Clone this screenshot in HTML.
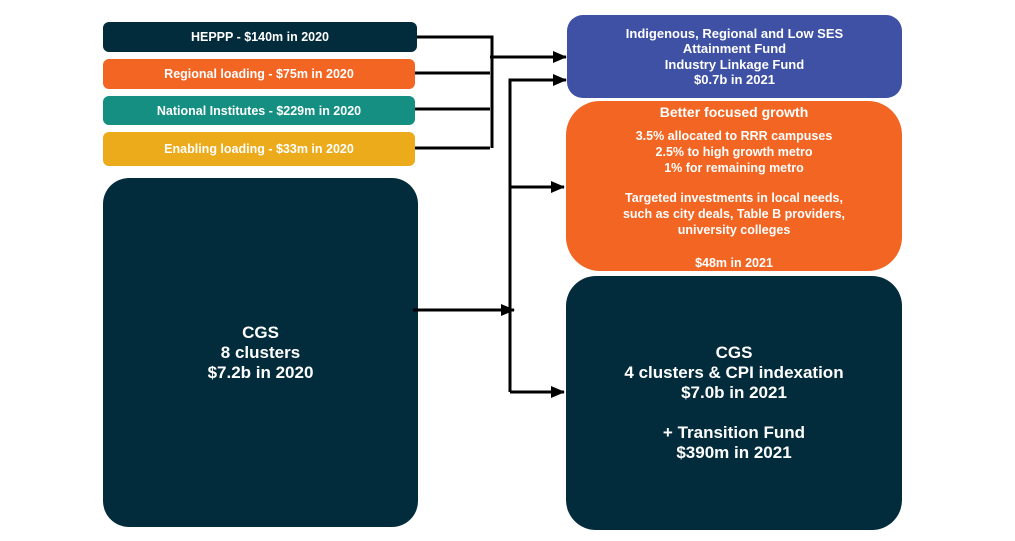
<!DOCTYPE html><html><head><style>
body{margin:0;width:1015px;height:541px;background:#fff;position:relative;overflow:hidden;font-family:"Liberation Sans",sans-serif;font-weight:bold;color:#fff}
.b{position:absolute;display:flex;align-items:center;justify-content:center;text-align:center;box-sizing:border-box}
.s{font-size:12.5px;border-radius:6px}
</style></head><body>
<div class="b s" style="left:103px;top:22px;width:314px;height:30px;background:#022b3b">HEPPP - $140m in 2020</div>
<div class="b s" style="left:103px;top:59px;width:312px;height:30px;background:#f26522">Regional loading - $75m in 2020</div>
<div class="b s" style="left:103px;top:96px;width:312px;height:29px;background:#148f81">National Institutes - $229m in 2020</div>
<div class="b s" style="left:103px;top:132px;width:312px;height:34px;background:#ebab1a">Enabling loading - $33m in 2020</div>
<div class="b" style="left:103px;top:178px;width:315px;height:349px;background:#022b3b;border-radius:26px;font-size:17px;line-height:20px">CGS<br>8 clusters<br>$7.2b in 2020</div>
<div class="b" style="left:567px;top:15px;width:335px;height:83px;background:#3f51a5;border-radius:16px;font-size:13px;line-height:15.5px">Indigenous, Regional and Low SES<br>Attainment Fund<br>Industry Linkage Fund<br>$0.7b in 2021</div>
<div class="b" style="left:566px;top:101px;width:336px;height:170px;background:#f26522;border-radius:34px;font-size:12.5px;line-height:16px;display:block;padding-top:3px"><div style="font-size:14px;margin-bottom:8px">Better focused growth</div>3.5% allocated to RRR campuses<br>2.5% to high growth metro<br>1% for remaining metro<br><div style="height:14px"></div>Targeted investments in local needs,<br>such as city deals, Table B providers,<br>university colleges<br><div style="height:17px"></div>$48m in 2021</div>
<div class="b" style="left:566px;top:276px;width:336px;height:254px;background:#022b3b;border-radius:30px;font-size:17px;line-height:20px">CGS<br>4 clusters &amp; CPI indexation<br>$7.0b in 2021<br><br>+ Transition Fund<br>$390m in 2021</div>
<svg width="1015" height="541" style="position:absolute;left:0;top:0">
<defs><marker id="a" markerWidth="14" markerHeight="12" refX="13" refY="6" orient="auto" markerUnits="userSpaceOnUse"><path d="M0,0L14,6L0,12z" fill="#000"/></marker></defs>
<g stroke="#000" stroke-width="3" fill="none">
<path d="M417,37H492V148M415,73H490M415,109H490M415,148H490"/>
<path d="M490,57H566" marker-end="url(#a)"/>
<path d="M510,392V80H566" marker-end="url(#a)"/>
<path d="M510,187H564" marker-end="url(#a)"/>
<path d="M510,392H564" marker-end="url(#a)"/>
<path d="M413,310H514" marker-end="url(#a)"/>
</g></svg>
</body></html>
